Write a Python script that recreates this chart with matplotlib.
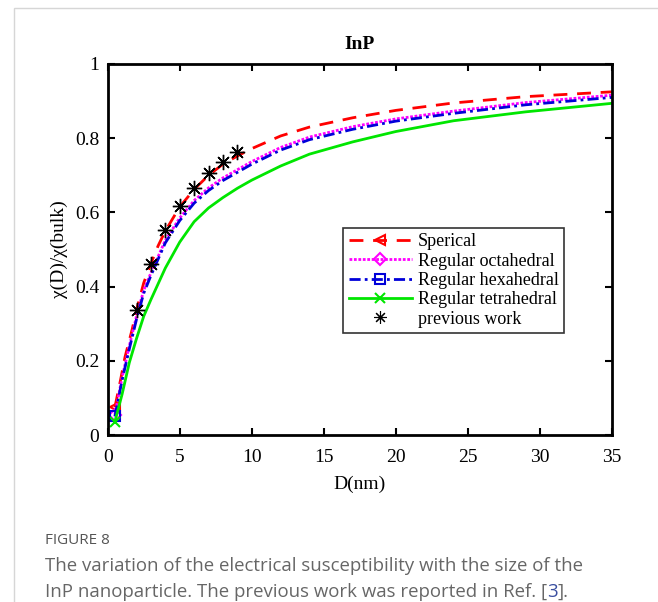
import matplotlib
matplotlib.use("Agg")
import matplotlib.pyplot as plt
from matplotlib.patches import Rectangle
from matplotlib.lines import Line2D

# ---- data ----
D_sph = [0.5, 0.9, 1.2, 1.7, 2.0, 2.5, 3.0, 3.5, 4.0, 5, 6, 7, 8, 9, 10, 12, 14, 17, 20, 24, 29, 35]
chi_sph = [0.075, 0.15, 0.21, 0.285, 0.337, 0.41, 0.462, 0.51, 0.55, 0.615, 0.662, 0.70, 0.73, 0.752,
           0.772, 0.806, 0.830, 0.855, 0.875, 0.895, 0.912, 0.925]

D_poly = [0.5, 1.0, 1.5, 2.0, 2.5, 3.0, 4, 5, 6, 7, 8, 9, 10, 12, 14, 17, 20, 24, 29, 35]
chi_oct = [0.055, 0.155, 0.24, 0.32, 0.39, 0.437, 0.525, 0.585, 0.632, 0.666, 0.693, 0.715, 0.737,
           0.775, 0.803, 0.831, 0.852, 0.873, 0.896, 0.916]
chi_hex = [0.05, 0.148, 0.232, 0.312, 0.382, 0.43, 0.518, 0.578, 0.625, 0.659, 0.686, 0.708, 0.730,
           0.768, 0.796, 0.824, 0.846, 0.867, 0.890, 0.910]
chi_tet = [0.036, 0.11, 0.195, 0.26, 0.32, 0.365, 0.45, 0.52, 0.575, 0.612, 0.64, 0.665, 0.687,
           0.725, 0.757, 0.790, 0.818, 0.847, 0.871, 0.894]

D_prev = [2, 3, 4, 5, 6, 7, 8, 9]
chi_prev = [0.337, 0.460, 0.553, 0.618, 0.666, 0.705, 0.737, 0.762]

labels = ["Sperical", "Regular octahedral", "Regular hexahedral", "Regular tetrahedral", "previous work"]
xticks = [0, 5, 10, 15, 20, 25, 30, 35]
yticks = [0, 0.2, 0.4, 0.6, 0.8, 1]
yticklabels = ["0", "0.2", "0.4", "0.6", "0.8", "1"]

serif = ["Liberation Serif", "DejaVu Serif"]

fig = plt.figure(figsize=(6.58, 6.02), dpi=100)
fig.patch.set_facecolor("white")

# card border
fig.patches.append(Rectangle((14 / 658, -0.1), 1.2, 1 - 8 / 602 + 0.1, transform=fig.transFigure,
                             fill=False, edgecolor="#d6d6d6", linewidth=1.0))

ax = fig.add_axes([107.7 / 658, 1 - 435 / 602, (612 - 107.7) / 658, (435 - 64) / 602])

ax.plot(D_sph, chi_sph, color=(1, 0, 0), linestyle=(0, (5, 3.5)), linewidth=2.0,
        marker="<", markevery=[0], markersize=7, markerfacecolor="none", markeredgewidth=1.5)
ax.plot(D_poly, chi_oct, color=(1, 0, 1), linestyle=(0, (1, 0.6)), linewidth=2.0,
        marker="D", markevery=[0], markersize=6, markerfacecolor="none", markeredgewidth=1.5)
ax.plot(D_poly, chi_hex, color=(0, 0, 0.85), linestyle=(0, (4, 1.5, 1, 1.5)), linewidth=2.0,
        marker="s", markevery=[0], markersize=7, markerfacecolor="none", markeredgewidth=1.5)
ax.plot(D_poly, chi_tet, color=(0, 0.9, 0), linestyle="-", linewidth=2.0,
        marker="x", markevery=[0], markersize=7, markeredgewidth=1.5)
ax.plot(D_prev, chi_prev, linestyle="none", color="black", marker=(8, 2, 0),
        markersize=11, markeredgewidth=1.0)

ax.set_xlim(0, 35)
ax.set_ylim(0, 1)
ax.set_xticks(xticks)
ax.set_yticks(yticks)
ax.set_yticklabels(yticklabels)
ax.tick_params(direction="in", top=True, right=True, length=5, width=1.5, labelsize=14)
ax.tick_params(axis="x", pad=10)
ax.tick_params(axis="y", pad=6)
for lab in ax.get_xticklabels() + ax.get_yticklabels():
    lab.set_family(serif)
for s in ax.spines.values():
    s.set_linewidth(2.0)

ax.set_xlabel("D(nm)", family=serif, fontsize=14, labelpad=7)
ax.set_ylabel("χ(D)/χ(bulk)", family=serif, fontsize=14, labelpad=5)
ax.set_title("InP", family=serif, fontsize=14, fontweight="bold", pad=11)

handles = [
    Line2D([], [], color=(1, 0, 0), linestyle=(0, (5, 3.5)), linewidth=2.0, marker="<",
           markersize=7, markerfacecolor="none", markeredgewidth=1.5),
    Line2D([], [], color=(1, 0, 1), linestyle=(0, (1, 0.6)), linewidth=2.0, marker="D",
           markersize=6, markerfacecolor="none", markeredgewidth=1.5),
    Line2D([], [], color=(0, 0, 0.85), linestyle=(0, (4, 1.5, 1, 1.5)), linewidth=2.0, marker="s",
           markersize=7, markerfacecolor="none", markeredgewidth=1.5),
    Line2D([], [], color=(0, 0.9, 0), linestyle="-", linewidth=2.0, marker="x",
           markersize=7, markeredgewidth=1.5),
    Line2D([], [], color="black", linestyle="none", marker=(8, 2, 0), markersize=9, markeredgewidth=0.8),
]
leg = ax.legend(handles, labels, loc="upper left", bbox_to_anchor=(0.467, 0.558),
                prop={"family": serif, "size": 13}, frameon=True, fancybox=False,
                edgecolor="black", handlelength=3.5, handletextpad=0.35, borderpad=0.3,
                labelspacing=0.13, borderaxespad=0.0)
leg.get_frame().set_linewidth(1.2)

# caption
cap_font = ["Open Sans", "DejaVu Sans"]
fig.text(45 / 658, 1 - 541 / 602, "FIGURE 8", family=cap_font, fontsize=11, color="#555555",
         va="center", ha="left")
fig.text(45 / 658, 1 - 566 / 602,
         "The variation of the electrical susceptibility with the size of the",
         family=cap_font, fontsize=13.4, color="#666666", va="center", ha="left")
t1 = fig.text(45 / 658, 1 - 592 / 602,
              "InP nanoparticle. The previous work was reported in Ref. [",
              family=cap_font, fontsize=13.4, color="#666666", va="center", ha="left")
fig.canvas.draw()
bb = t1.get_window_extent()
x1 = bb.x1 / fig.bbox.width
t2 = fig.text(x1, 1 - 592 / 602, "3", family=cap_font, fontsize=13.4, color="#3a4fa0",
              va="center", ha="left")
fig.canvas.draw()
x2 = t2.get_window_extent().x1 / fig.bbox.width
fig.text(x2, 1 - 592 / 602, "].", family=cap_font, fontsize=13.4, color="#666666",
         va="center", ha="left")

fig.savefig("out.png", dpi=100, facecolor="white")
